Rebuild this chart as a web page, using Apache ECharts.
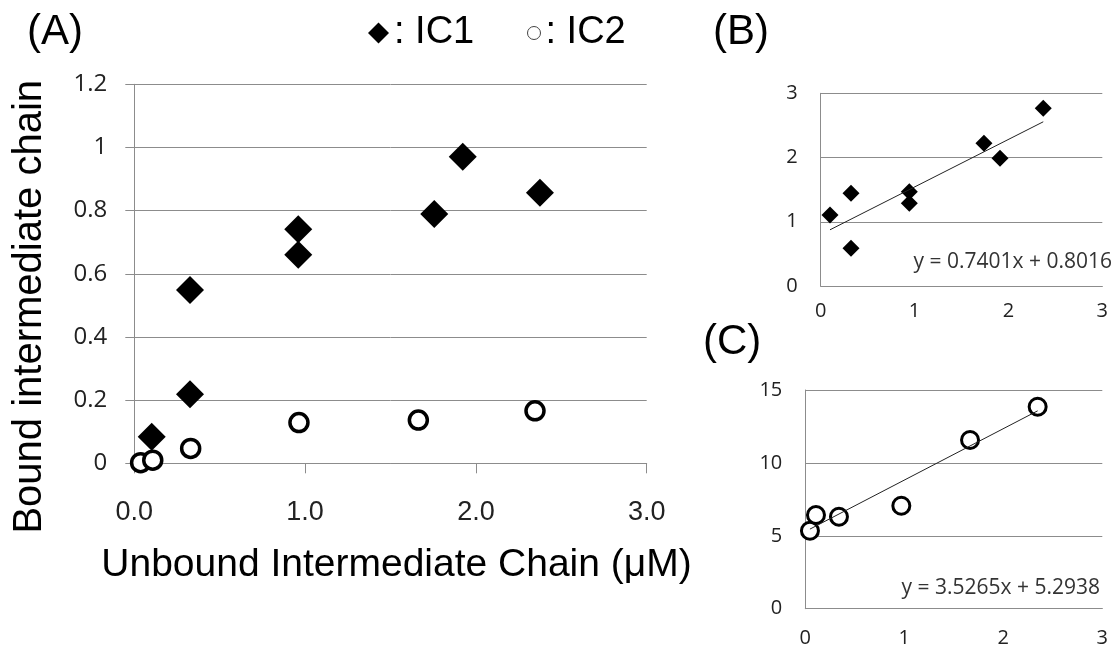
<!DOCTYPE html>
<html><head><meta charset="utf-8">
<script src="https://cdn.jsdelivr.net/npm/echarts@6/dist/echarts.min.js"></script>
<style>html,body{margin:0;padding:0;background:#fff}#c{width:1118px;height:652px}</style>
</head><body><div id="c"></div>
<script>
// ---- Data ----
const legendNames = ['IC1', 'IC2'];
const panelLabels = ['(A)', '(B)', '(C)'];
const xTitleA = 'Unbound Intermediate Chain (\u03bcM)';
const yTitleA = 'Bound intermediate chain';

// Panel A
const ic1X = [0.102, 0.326, 0.326, 0.960, 0.960, 1.756, 1.923, 2.375];
const ic1Y = [0.084, 0.549, 0.219, 0.741, 0.660, 0.789, 0.971, 0.857];
const ic2X = [0.037, 0.108, 0.330, 0.964, 1.663, 2.346];
const ic2Y = [0.002, 0.010, 0.047, 0.129, 0.137, 0.166];

// Panel B (IC1)
const bX = [0.099, 0.323, 0.323, 0.944, 0.944, 1.739, 1.910, 2.371];
const bY = [1.106, 1.444, 0.587, 1.469, 1.288, 2.222, 1.989, 2.768];
const fitB = [0.7401, 0.8016];
const eqB = 'y = 0.7401x + 0.8016';

// Panel C (IC2)
const cX = [0.047, 0.108, 0.340, 0.970, 1.664, 2.347];
const cY = [5.35, 6.43, 6.31, 7.06, 11.57, 13.85];
const fitC = [3.5265, 5.2938];
const eqC = 'y = 3.5265x + 5.2938';

// Tick labels
const xTicksA = ['0.0', '1.0', '2.0', '3.0'];
const yTicksA = ['0', '0.2', '0.4', '0.6', '0.8', '1', '1.2'];
const xTicksBC = ['0', '1', '2', '3'];
const yTicksB = ['0', '1', '2', '3'];
const yTicksC = ['0', '5', '10', '15'];

// ---- helpers ----
const pairs = (xs, ys) => xs.map((x, i) => [x, ys[i]]);
const fitLine = (xs, fit) => {
  const lo = Math.min(...xs), hi = Math.max(...xs);
  return [[lo, fit[0] * lo + fit[1]], [hi, fit[0] * hi + fit[1]]];
};
const axisFromTicks = (ticks) => {
  const v = ticks.map(Number);
  return { min: v[0], max: v[v.length - 1], interval: v[1] - v[0] };
};
const GRID = '#8c8c8c';
const SANS = 'Liberation Sans';
const CALI = 'Open Sans';

function valueAxis(ticks, gridIndex, extra) {
  const r = axisFromTicks(ticks);
  return Object.assign({
    type: 'value', gridIndex, min: r.min, max: r.max, interval: r.interval,
    axisLine: { show: true, lineStyle: { color: GRID, width: 1 } },
    axisTick: { show: false },
    splitLine: { show: false },
    axisLabel: { formatter: (v, i) => ticks[i] }
  }, extra);
}

const option = {
  animation: false,
  backgroundColor: '#fff',
  title: [
    { text: panelLabels[0], left: 27, top: 11, padding: 0, textStyle: { fontSize: 42, fontWeight: 'normal', fontFamily: SANS, color: '#000' } },
    { text: panelLabels[1], left: 713, top: 11, padding: 0, textStyle: { fontSize: 42, fontWeight: 'normal', fontFamily: SANS, color: '#000' } },
    { text: panelLabels[2], left: 703, top: 321, padding: 0, textStyle: { fontSize: 42, fontWeight: 'normal', fontFamily: SANS, color: '#000' } },
    { text: eqB, right: 6, top: 252, padding: 0, textStyle: { fontSize: 21, fontWeight: 'normal', fontFamily: CALI, color: '#333' } },
    { text: eqC, right: 18, top: 578, padding: 0, textStyle: { fontSize: 21, fontWeight: 'normal', fontFamily: CALI, color: '#333' } }
  ],
  legend: [
    { data: [{ name: legendNames[0], icon: 'diamond', itemStyle: { color: '#000', borderWidth: 0 } }],
      left: 368, top: 14, padding: 0, itemWidth: 21, itemHeight: 21,
      formatter: ': {name}', selectedMode: false,
      textStyle: { fontSize: 38, fontFamily: SANS, color: '#000' } },
    { data: [{ name: legendNames[1], icon: 'circle', itemStyle: { color: '#fff', borderColor: '#444', borderWidth: 1 } }],
      left: 527, top: 14, padding: 0, itemWidth: 13, itemHeight: 13,
      formatter: ': {name}', selectedMode: false,
      textStyle: { fontSize: 38, fontFamily: SANS, color: '#000' } }
  ],
  grid: [
    { left: 134.3, top: 84.3, width: 512.4, height: 379 },
    { left: 820.7, top: 93.3, width: 281.6, height: 192.7 },
    { left: 805.3, top: 390, width: 297, height: 218.7 }
  ],
  xAxis: [
    valueAxis(xTicksA, 0, {
      axisTick: { show: true, length: 10, lineStyle: { color: GRID } },
      axisLabel: { formatter: (v, i) => xTicksA[i], fontSize: 27, fontFamily: SANS, color: '#222', margin: 36 },
      name: xTitleA, nameLocation: 'middle', nameGap: 82,
      nameTextStyle: { fontSize: 39, fontFamily: SANS, color: '#000', padding: [0, 0, 0, 12] }
    }),
    valueAxis(xTicksBC, 1, {
      axisLabel: { formatter: (v, i) => xTicksBC[i], fontSize: 20, fontFamily: CALI, color: '#222', margin: 15 }
    }),
    valueAxis(xTicksBC, 2, {
      axisLabel: { formatter: (v, i) => xTicksBC[i], fontSize: 20, fontFamily: CALI, color: '#222', margin: 20 }
    })
  ],
  yAxis: [
    valueAxis(yTicksA, 0, {
      axisTick: { show: true, length: 9, lineStyle: { color: GRID } },
      splitLine: { show: true, lineStyle: { color: GRID, width: 1 } },
      axisLabel: { formatter: (v, i) => yTicksA[i], fontSize: 24, fontFamily: CALI, color: '#222', margin: 27 },
      name: yTitleA, nameLocation: 'middle', nameGap: 84, nameRotate: 90,
      nameTextStyle: { fontSize: 40, fontFamily: SANS, color: '#000', padding: [0, 66, 0, 0] }
    }),
    valueAxis(yTicksB, 1, {
      splitLine: { show: true, lineStyle: { color: GRID, width: 1 } },
      axisLabel: { formatter: (v, i) => yTicksB[i], fontSize: 20, fontFamily: CALI, color: '#222', margin: 23 }
    }),
    valueAxis(yTicksC, 2, {
      splitLine: { show: true, lineStyle: { color: GRID, width: 1 } },
      axisLabel: { formatter: (v, i) => yTicksC[i], fontSize: 20, fontFamily: CALI, color: '#222', margin: 23 }
    })
  ],
  series: [
    { name: legendNames[1], type: 'scatter', xAxisIndex: 0, yAxisIndex: 0, data: pairs(ic2X, ic2Y),
      symbol: 'circle', symbolSize: 18,
      itemStyle: { color: '#fff', borderColor: '#000', borderWidth: 3.5, opacity: 1 } },
    { name: legendNames[0], type: 'scatter', xAxisIndex: 0, yAxisIndex: 0, data: pairs(ic1X, ic1Y),
      symbol: 'diamond', symbolSize: 28, itemStyle: { color: '#000', opacity: 1 } },
    { name: 'IC1 (B)', type: 'scatter', xAxisIndex: 1, yAxisIndex: 1, data: pairs(bX, bY),
      symbol: 'diamond', symbolSize: 17, itemStyle: { color: '#000', opacity: 1 } },
    { name: 'IC1 fit', type: 'line', xAxisIndex: 1, yAxisIndex: 1, data: fitLine(bX, fitB),
      showSymbol: false, symbol: 'none', z: 5, lineStyle: { color: '#222', width: 1 } },
    { name: 'IC2 (C)', type: 'scatter', xAxisIndex: 2, yAxisIndex: 2, data: pairs(cX, cY),
      symbol: 'circle', symbolSize: 17,
      itemStyle: { color: '#fff', borderColor: '#000', borderWidth: 3, opacity: 1 } },
    { name: 'IC2 fit', type: 'line', xAxisIndex: 2, yAxisIndex: 2, data: fitLine(cX, fitC),
      showSymbol: false, symbol: 'none', z: 5, lineStyle: { color: '#222', width: 1 } }
  ]
};
const chart = echarts.init(document.getElementById('c'), null, { renderer: 'canvas' });
chart.setOption(option);
</script>
</body></html>
